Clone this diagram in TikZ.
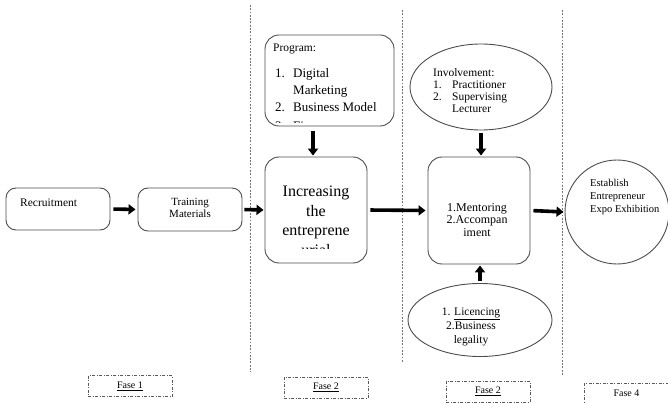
\documentclass[tikz,border=0pt]{standalone}
\usepackage{fontspec}
\setmainfont{Liberation Serif}
\usetikzlibrary{arrows.meta,shapes.geometric}
\begin{document}
\begin{tikzpicture}[x=1pt,y=-1pt,
 rbox/.style={draw=black!70, line width=0.9pt, rounded corners=10pt, inner sep=0pt},
 oval/.style={draw=black!70, line width=0.9pt, ellipse, inner sep=0pt},
 flow/.style={line width=3.6pt, -{Triangle[length=7pt,width=10pt]}},
 sepline/.style={draw=black!55, line width=1pt, dash pattern=on 1.8pt off 1.5pt},
 fase/.style={draw=black!65, line width=0.9pt, dash pattern=on 3pt off 1.5pt on 1pt off 1.5pt, minimum width=84pt, minimum height=21pt, inner sep=0pt, font=\fontsize{10}{10}\selectfont},
 txt/.style={inner sep=0pt, font=\fontsize{11.5}{12}\selectfont},
 bigtxt/.style={inner sep=0pt, font=\fontsize{13}{16}\selectfont}
]
\useasboundingbox (0,0) rectangle (668,403);

% phase separators
\coordinate (s1t) at (250,5);   \coordinate (s1b) at (250,372);
\coordinate (s2t) at (402,10);  \coordinate (s2b) at (402,362);
\coordinate (s3t) at (562,10);  \coordinate (s3b) at (562,375);
\draw[sepline] (s1t) -- (s1b);
\draw[sepline] (s2t) -- (s2b);
\draw[sepline] (s3t) -- (s3b);

% phase 1
\node[rbox, minimum width=104pt, minimum height=42pt] (rec) at (58,209) {};
\node[txt, anchor=base west] (recT) at (20,207) {Recruitment};
\node[rbox, minimum width=104pt, minimum height=43pt] (tra) at (190,209.5) {};
\node[inner sep=0pt, align=center, font=\fontsize{11}{12.5}\selectfont] (traT) at (190,208) {Training\\Materials};

% phase 2
\node[rbox, rounded corners=14pt, minimum width=129pt, minimum height=91pt] (prog) at (329.5,80.5) {};
\node[txt, anchor=base west] (progT) at (273,52) {Program:};
\node[bigtxt, anchor=base west] (p1n) at (275,78) {1.};
\node[bigtxt, anchor=base west] (p1) at (293,78) {Digital};
\node[bigtxt, anchor=base west] (p1b) at (293,95) {Marketing};
\node[bigtxt, anchor=base west] (p2n) at (275,112) {2.};
\node[bigtxt, anchor=base west] (p2) at (293,112) {Business Model};
\begin{scope}
  \clip (266,36) rectangle (393,123);
  \node[bigtxt, anchor=base west] (p3n) at (275,131) {3.};
  \node[bigtxt, anchor=base west] (p3) at (293,131) {Finance};
\end{scope}

\node[rbox, rounded corners=14pt, minimum width=102pt, minimum height=106pt] (inc) at (316,210) {};
\begin{scope}
  \clip (266,158) rectangle (366,248.5);
  \node[inner sep=0pt, align=center, font=\fontsize{16}{19.5}\selectfont, anchor=north] (incT) at (316,186) {Increasing\\the\\entreprene\\urial};
\end{scope}

% phase 3
\node[oval, minimum width=142pt, minimum height=86pt] (inv) at (481,87) {};
\node[txt, anchor=base west] (invT) at (433,77) {Involvement:};
\node[txt, anchor=base west] (i1n) at (433,89) {1.};
\node[txt, anchor=base west] (i1) at (452,89) {Practitioner};
\node[txt, anchor=base west] (i2n) at (433,101) {2.};
\node[txt, anchor=base west] (i2) at (452,101) {Supervising};
\node[txt, anchor=base west] (i2b) at (452,113) {Lecturer};

\node[rbox, rounded corners=14pt, minimum width=102pt, minimum height=107pt] (men) at (479,210.5) {};
\node[inner sep=0pt, align=center, font=\fontsize{12}{12.5}\selectfont] (menT) at (477,220) {1.Mentoring\\2.Accompan\\iment};

\node[oval, minimum width=144pt, minimum height=73pt] (lic) at (480,320) {};
\node[inner sep=0pt, align=center, font=\fontsize{11.5}{14}\selectfont] (licT) at (471,327) {1. \underline{Licencing}\\2.Business\\legality};

% phase 4
\node[draw=black!70, line width=0.9pt, circle, minimum size=104pt, inner sep=0pt] (est) at (617,212) {};
\node[inner sep=0pt, align=left, font=\fontsize{10.5}{13}\selectfont, anchor=north west] (estT) at (590,179) {Establish\\Entrepreneur\\Expo Exhibition};

% flow arrows
\draw[flow, shorten <=3pt, shorten >=2pt] (rec.east) -- (tra.west);
\draw[flow, shorten <=2pt, shorten >=1pt] (tra.east) -- (inc.west);
\draw[flow, shorten <=3pt, shorten >=2pt] (inc.east) -- (men.west);
\draw[flow, shorten <=3pt, shorten >=1pt] (men.east) -- (est.west);
\draw[flow, shorten <=5pt, shorten >=1pt] (prog.south -| 313,0) -- (inc.north -| 313,0);
\draw[flow, shorten <=3pt, shorten >=1pt] (inv.south) -- (inv.south |- men.north);
\draw[flow, shorten <=2pt, shorten >=1pt] (lic.north) -- (lic.north |- men.south);

% phase labels
\node[fase] (f1) at (130,386) {\underline{Fase 1}};
\node[fase] (f2) at (326,387.5) {\underline{Fase 2}};
\node[fase] (f3) at (488,391.5) {\underline{Fase 2}};
\node[fase] (f4) at (626.5,393.5) {Fase 4};
\end{tikzpicture}
\end{document}
